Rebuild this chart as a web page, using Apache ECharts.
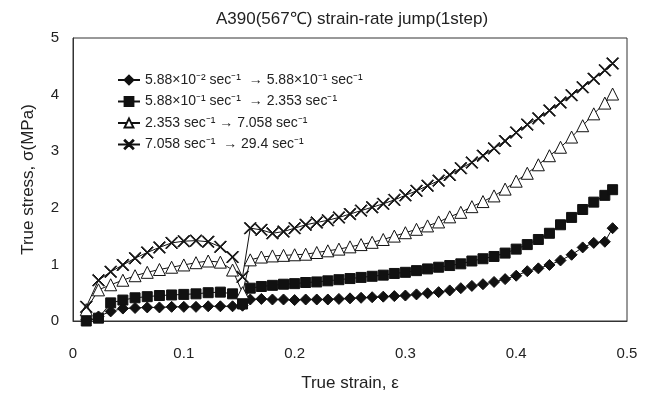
<!DOCTYPE html>
<html>
<head>
<meta charset="utf-8">
<script src="https://cdn.jsdelivr.net/npm/echarts@6/dist/echarts.min.js"></script>
<style>
  html, body { margin: 0; padding: 0; background: #fff; }
  #chart { width: 647px; height: 399px; }
</style>
</head>
<body>
<div id="chart"></div>
<script>
// strain values (x)
var strain = [0.012, 0.023, 0.034, 0.045, 0.056, 0.067, 0.078, 0.089, 0.100, 0.111, 0.122, 0.133, 0.144, 0.153,
    0.16, 0.17, 0.18, 0.19, 0.20, 0.21, 0.22, 0.23, 0.24, 0.25, 0.26, 0.27, 0.28, 0.29, 0.30, 0.31, 0.32,
    0.33, 0.34, 0.35, 0.36, 0.37, 0.38, 0.39, 0.40, 0.41, 0.42, 0.43, 0.44, 0.45, 0.46, 0.47, 0.48, 0.487];

/** stress values (MPa) for each series **/
var stressDiamond = [0.02, 0.08, 0.17, 0.22, 0.23, 0.24, 0.24, 0.25, 0.25, 0.25, 0.26, 0.26, 0.26, 0.27,
    0.38, 0.39, 0.38, 0.38, 0.37, 0.38, 0.38, 0.38, 0.39, 0.40, 0.41, 0.42, 0.43, 0.44, 0.45, 0.47, 0.49,
    0.51, 0.54, 0.58, 0.62, 0.65, 0.69, 0.74, 0.80, 0.88, 0.93, 0.99, 1.07, 1.17, 1.30, 1.38, 1.40, 1.64];
var stressSquare = [0.00, 0.05, 0.32, 0.37, 0.41, 0.43, 0.45, 0.46, 0.47, 0.48, 0.50, 0.51, 0.48, 0.30,
    0.58, 0.61, 0.63, 0.65, 0.66, 0.68, 0.69, 0.71, 0.73, 0.75, 0.77, 0.79, 0.81, 0.84, 0.86, 0.89, 0.92,
    0.95, 0.98, 1.01, 1.06, 1.10, 1.14, 1.20, 1.27, 1.35, 1.44, 1.55, 1.70, 1.83, 1.97, 2.10, 2.22, 2.32];
var stressTriangle = [0.20, 0.55, 0.64, 0.72, 0.80, 0.86, 0.91, 0.95, 0.99, 1.03, 1.06, 1.04, 0.90, 0.50,
    1.08, 1.13, 1.15, 1.16, 1.17, 1.18, 1.21, 1.24, 1.27, 1.31, 1.35, 1.39, 1.44, 1.50, 1.56, 1.62, 1.68,
    1.75, 1.84, 1.92, 2.02, 2.11, 2.21, 2.33, 2.47, 2.61, 2.76, 2.92, 3.07, 3.25, 3.45, 3.66, 3.85, 4.01];
var stressCross = [0.25, 0.72, 0.87, 0.99, 1.11, 1.21, 1.30, 1.38, 1.41, 1.42, 1.40, 1.31, 1.13, 0.78,
    1.64, 1.61, 1.55, 1.58, 1.64, 1.70, 1.74, 1.78, 1.83, 1.89, 1.95, 2.01, 2.07, 2.14, 2.22, 2.30, 2.39,
    2.48, 2.58, 2.70, 2.80, 2.92, 3.05, 3.18, 3.33, 3.47, 3.58, 3.72, 3.86, 3.99, 4.13, 4.28, 4.43, 4.55];

var seriesNames = [
    '5.88×10⁻² sec⁻¹  → 5.88×10⁻¹ sec⁻¹',
    '5.88×10⁻¹ sec⁻¹  → 2.353 sec⁻¹',
    '2.353 sec⁻¹ → 7.058 sec⁻¹',
    '7.058 sec⁻¹  → 29.4 sec⁻¹'
];
var xTicks = ['0', '0.1', '0.2', '0.3', '0.4', '0.5'];

var FONT = 'Liberation Sans, Arial, sans-serif';
var crossPath = 'path://M0,0.6L0.6,0L5,4.4L9.4,0L10,0.6L5.6,5L10,9.4L9.4,10L5,5.6L0.6,10L0,9.4L4.4,5Z';

function toPoints(ys) {
    return strain.map(function (x, i) { return [x, ys[i]]; });
}

function makeSeries(name, ys, symbol, size, fill) {
    return {
        name: name,
        type: 'line',
        data: toPoints(ys),
        symbol: symbol,
        symbolSize: size,
        showAllSymbol: true,
        lineStyle: { color: '#111', width: 1 },
        itemStyle: { color: fill, borderColor: '#111', borderWidth: 1 },
        emphasis: { disabled: true },
        animation: false
    };
}

var option = {
    backgroundColor: '#fff',
    animation: false,
    title: {
        text: 'A390(567℃) strain-rate jump(1step)',
        left: 347,
        textAlign: 'center',
        top: 6,
        textStyle: { fontFamily: FONT, fontSize: 17, fontWeight: 'normal', color: '#222' }
    },
    legend: {
        orient: 'vertical',
        left: 112,
        top: 68,
        itemGap: 7.5,
        itemWidth: 22,
        itemHeight: 11,
        data: seriesNames,
        textStyle: { fontFamily: FONT, fontSize: 14, color: '#222' }
    },
    grid: {
        left: 73, right: 20, top: 38, bottom: 78,
        show: true, borderColor: '#333', borderWidth: 1
    },
    xAxis: {
        type: 'value',
        min: 0, max: 0.5, interval: 0.1,
        name: 'True strain, ε',
        nameLocation: 'middle',
        nameGap: 54,
        nameTextStyle: { fontFamily: FONT, fontSize: 17, color: '#222' },
        axisLine: { show: true, lineStyle: { color: '#333' } },
        axisTick: { show: false },
        splitLine: { show: false },
        axisLabel: {
            margin: 25,
            fontFamily: FONT, fontSize: 15, color: '#222',
            formatter: function (v) { return xTicks[Math.round(v * 10)]; }
        }
    },
    yAxis: {
        type: 'value',
        min: 0, max: 5, interval: 1,
        name: 'True stress, σ(MPa)',
        nameLocation: 'middle',
        nameGap: 36,
        nameTextStyle: { fontFamily: FONT, fontSize: 17, color: '#222' },
        axisLine: { show: true, lineStyle: { color: '#333' } },
        axisTick: { show: false },
        splitLine: { show: false },
        axisLabel: { margin: 14, fontFamily: FONT, fontSize: 15, color: '#222' }
    },
    series: [
        makeSeries(seriesNames[0], stressDiamond, 'diamond', 11, '#111'),
        makeSeries(seriesNames[1], stressSquare, 'rect', 10, '#111'),
        makeSeries(seriesNames[2], stressTriangle, 'triangle', 12, '#fff'),
        makeSeries(seriesNames[3], stressCross, crossPath, 12, '#111')
    ]
};

var myEcharts = echarts.init(document.getElementById('chart'));
myEcharts.setOption(option);
</script>
</body>
</html>
